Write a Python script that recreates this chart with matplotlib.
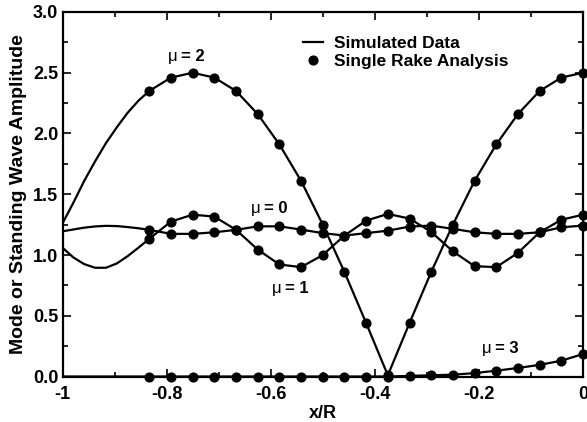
import numpy as np
import matplotlib
matplotlib.use("Agg")
import matplotlib.pyplot as plt
from matplotlib.lines import Line2D
import matplotlib.transforms as mtransforms

plt.rcParams['font.family'] = ['Liberation Sans', 'DejaVu Sans']
plt.rcParams['axes.unicode_minus'] = False

# ---- data ----
# rake (marker) stations, x/R = -20/24 ... 0
rake_x = np.linspace(-20 / 24, 0, 21)
# extra simulated-line stations to the left of the first rake station
left_x = np.linspace(-1, -41 / 48, 8)

rake_mu0 = [1.207, 1.174, 1.174, 1.187, 1.207, 1.236, 1.236, 1.209, 1.18, 1.16,
            1.18, 1.20, 1.234, 1.242, 1.215, 1.187, 1.174, 1.174, 1.187, 1.228, 1.242]
rake_mu1 = [1.133, 1.275, 1.332, 1.316, 1.207, 1.045, 0.922, 0.90, 1.00, 1.16,
            1.283, 1.338, 1.30, 1.19, 1.03, 0.908, 0.90, 1.018, 1.187, 1.29, 1.332]
rake_mu2 = [2.35, 2.46, 2.50, 2.46, 2.35, 2.16, 1.91, 1.61, 1.25, 0.86,
            0.44, 0.01, 0.44, 0.86, 1.25, 1.61, 1.91, 2.16, 2.35, 2.46, 2.50]
rake_mu3 = [0.0, 0.0, 0.0, 0.0, 0.0, 0.0, 0.0, 0.0, 0.0, 0.0,
            0.0, 0.0, 0.005, 0.01, 0.015, 0.028, 0.048, 0.07, 0.096, 0.13, 0.185]

left_mu0 = [1.195, 1.21, 1.225, 1.235, 1.24, 1.238, 1.23, 1.22]
left_mu1 = [1.06, 0.98, 0.925, 0.895, 0.895, 0.93, 0.99, 1.06]
left_mu2 = [1.26, 1.43, 1.61, 1.77, 1.92, 2.05, 2.17, 2.27]
left_mu3 = [0.0, 0.0, 0.0, 0.0, 0.0, 0.0, 0.0, 0.0]

x_ticks = [-1, -0.8, -0.6, -0.4, -0.2, 0]
x_ticklabels = ["-1", "-0.8", "-0.6", "-0.4", "-0.2", "0"]
y_ticks = [0, 0.5, 1.0, 1.5, 2.0, 2.5, 3.0]
y_ticklabels = ["0.0", "0.5", "1.0", "1.5", "2.0", "2.5", "3.0"]

mode_labels = ["0", "1", "2", "3"]
label_pos = [(-0.639, 1.38), (-0.597, 0.725), (-0.797, 2.635), (-0.195, 0.231)]

# ---- figure ----
fig = plt.figure(figsize=(5.87, 4.22), dpi=100)
ax = fig.add_axes([0.1065, 0.1078, 0.8867, 0.8638])

line_x = np.concatenate([left_x, rake_x])
for left, rake in [(left_mu0, rake_mu0), (left_mu1, rake_mu1),
                   (left_mu2, rake_mu2), (left_mu3, rake_mu3)]:
    ax.plot(line_x, list(left) + list(rake), color='black', lw=1.6, zorder=2)
    ax.plot(rake_x, rake, 'o', color='black', ms=6.3, zorder=3, clip_on=False)

ax.set_xlim(-1, 0)
ax.set_ylim(0, 3.0)
ax.set_xticks(x_ticks)
ax.set_xticklabels(x_ticklabels)
ax.set_yticks(y_ticks)
ax.set_yticklabels(y_ticklabels)
ax.set_xticks(np.arange(-0.9, 0, 0.2), minor=True)
ax.set_yticks(np.arange(0.25, 3.0, 0.5), minor=True)

ax.tick_params(which='both', direction='in', top=True, right=True, width=1.2)
ax.tick_params(which='major', length=6, labelsize=13)
ax.tick_params(axis='y', which='major', pad=3)
ax.tick_params(axis='x', which='major', pad=7)
ax.tick_params(which='minor', length=3.5)
for lab in ax.get_xticklabels() + ax.get_yticklabels():
    lab.set_fontweight('bold')
for sp in ax.spines.values():
    sp.set_linewidth(1.6)

ax.set_xlabel("x/R", fontsize=13, fontweight='bold', labelpad=1)
ax.set_ylabel("Mode or Standing Wave Amplitude", fontsize=14, fontweight='bold', labelpad=4)

# mode labels: upright mu (regular) followed by bold "= n"
for m, (lx, ly) in zip(mode_labels, label_pos):
    ax.text(lx, ly, "\u03bc", fontsize=12, fontweight='normal', va='center', ha='left')
    tr = mtransforms.offset_copy(ax.transData, fig=fig, x=9.5, y=0, units='points')
    ax.text(lx, ly, "= " + m, fontsize=12, fontweight='bold', va='center', ha='left',
            transform=tr)

handles = [Line2D([], [], color='black', lw=1.6),
           Line2D([], [], color='black', marker='o', ls='none', ms=6.3)]
ax.legend(handles, ["Simulated Data", "Single Rake Analysis"], loc='upper left',
          bbox_to_anchor=(0.462, 0.935), frameon=False, borderpad=0, borderaxespad=0,
          handlelength=1.15, handletextpad=0.65, labelspacing=0.2,
          prop={'weight': 'bold', 'size': 12.5})

fig.savefig("out.png", dpi=100)
